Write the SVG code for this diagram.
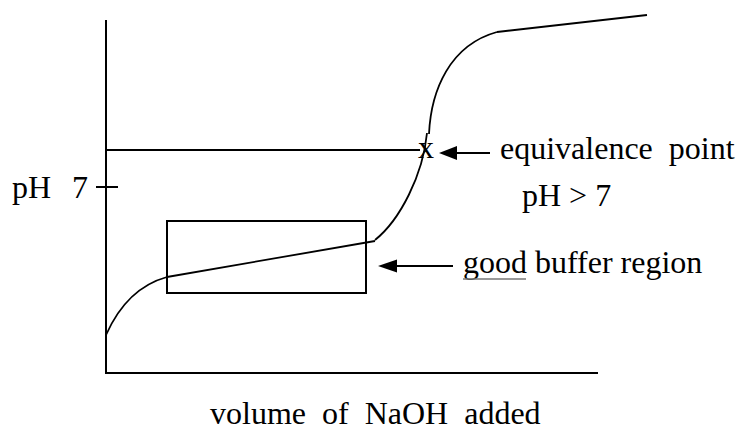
<svg xmlns="http://www.w3.org/2000/svg" width="738" height="430" viewBox="0 0 738 430">
<style>
.ln{stroke:#000;stroke-width:2;fill:none}
.cv{stroke:#000;stroke-width:1.8;fill:none}
.t{font-family:"Liberation Serif","Times New Roman",serif;font-size:32px;fill:#000;white-space:pre}
</style>
<g id="axes">
<line class="ln" x1="106" y1="20" x2="106" y2="373"/>
<line class="ln" x1="105" y1="373" x2="598" y2="373"/>
<line class="ln" x1="96" y1="187" x2="118" y2="187"/>
</g>
<g id="curve">
<path class="cv" d="M106,335 C118,308 138,285 167,277"/>
<line class="cv" x1="167" y1="277" x2="375" y2="241"/>
<path class="cv" d="M375,240 C400,220 423,175 427,133"/>
<path class="cv" d="M429,134 C431,90 450,45 497,32"/>
<line class="cv" x1="497" y1="32" x2="647" y2="15"/>
</g>
<g id="buffer-box">
<rect class="ln" x="167" y="221" width="199" height="72"/>
</g>
<g id="eq-line">
<line class="ln" x1="106" y1="150" x2="420" y2="150"/>
<text class="t" x="418" y="158">x</text>
</g>
<g id="connectors">
<line class="ln" x1="490" y1="153" x2="457" y2="153"/>
<path d="M439,153 L457,146 L457,160 Z" fill="#000"/>
<line class="ln" x1="453" y1="266" x2="396" y2="266"/>
<path d="M378,266 L397,259.5 L397,272.5 Z" fill="#000"/>
</g>
<g id="labels">
<text class="t" x="12" y="198">pH</text>
<text class="t" x="72" y="198">7</text>
<text class="t" x="500" y="159">equivalence  point</text>
<text class="t" x="522" y="206">pH &gt; 7</text>
<text class="t" x="463" y="273">good buffer region</text>
<line x1="463" y1="279" x2="526" y2="279" stroke="#777" stroke-width="1.5"/>
<text class="t" x="210" y="424">volume  of  NaOH  added</text>
</g>
</svg>
